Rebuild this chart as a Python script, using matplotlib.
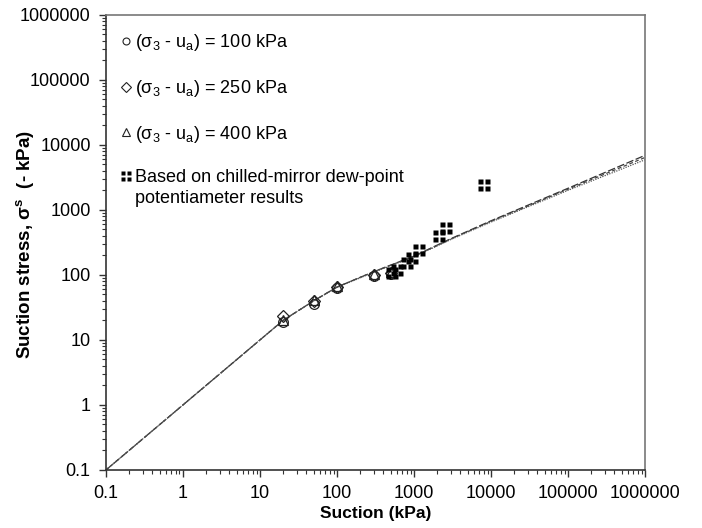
import numpy as np
import matplotlib
matplotlib.use('Agg')
import matplotlib.pyplot as plt
from matplotlib.path import Path
from matplotlib.lines import Line2D
from matplotlib.ticker import LogLocator, FuncFormatter

plt.rcParams['font.family'] = ['Liberation Sans', 'DejaVu Sans']
plt.rcParams['mathtext.fontset'] = 'custom'
plt.rcParams['mathtext.rm'] = 'Liberation Sans'
plt.rcParams['mathtext.it'] = 'Liberation Sans:italic'
plt.rcParams['mathtext.bf'] = 'Liberation Sans:bold'

# model curves
curveX = [0.1, 1, 10, 20, 50, 100, 300, 1000, 3000, 10000, 100000, 1000000]
curve1Y = [0.1, 1, 10, 20, 40, 65, 112, 195, 360, 680, 2150, 6900]
curve2Y = [0.1, 1, 10, 20, 40, 65, 112, 193, 355, 665, 2080, 6400]
curve3Y = [0.1, 1, 10, 20, 40, 64, 110, 190, 350, 650, 2000, 5900]

# test results
suction = [20, 50, 100, 300, 500]
stress100 = [19, 36, 63, 97, 104]
stress250 = [23, 39, 66, 100, 108]
stress400 = [20, 41, 68, 102, 112]

# chilled-mirror dew-point results
dewX = [520, 600, 811, 942, 1160, 2110, 2600, 8000]
dewY = [108, 118, 152, 182, 242, 398, 529, 2440]

labels = [r'(σ$_3$ - u$_\mathregular{a}$) = 100 kPa',
          r'(σ$_3$ - u$_\mathregular{a}$) = 250 kPa',
          r'(σ$_3$ - u$_\mathregular{a}$) = 400 kPa',
          'Based on chilled-mirror dew-point']
label2 = 'potentiameter results'

# square marker split in four
g = 0.14
verts = []
codes = []
for x0, y0 in [(-1, -1), (g, -1), (-1, g), (g, g)]:
    w = 1 - g
    verts += [(x0, y0), (x0 + w, y0), (x0 + w, y0 + w), (x0, y0 + w), (x0, y0)]
    codes += [Path.MOVETO, Path.LINETO, Path.LINETO, Path.LINETO, Path.CLOSEPOLY]
quadMarker = Path(verts, codes)

fig = plt.figure(figsize=(7.02, 5.28), dpi=100)
ax = fig.add_axes([0.151, 0.110, 0.768, 0.862])

ax.plot(curveX, curve1Y, color='#333333', lw=0.9, ls=(0, (6, 2)))
ax.plot(curveX, curve2Y, color='#444444', lw=0.9, ls=(0, (3, 2)))
ax.plot(curveX, curve3Y, color='#555555', lw=0.9, ls=(0, (1, 1)))

ax.plot(suction, stress100, 'o', mfc='none', mec='#222222', ms=7, mew=0.9)
ax.plot(suction, stress250, 'D', mfc='none', mec='#222222', ms=6.5, mew=0.9)
ax.plot(suction, stress400, '^', mfc='none', mec='#222222', ms=7.5, mew=0.9)
ax.plot(dewX, dewY, ls='none', marker=quadMarker, mfc='black', mec='none', ms=9)

ax.set_xscale('log')
ax.set_yscale('log')
ax.set_xlim(0.1, 1e6)
ax.set_ylim(0.1, 1e6)

fmt = FuncFormatter(lambda v, p: f'{v:.0f}' if v >= 1 else f'{v:g}')
for a in (ax.xaxis, ax.yaxis):
    a.set_major_locator(LogLocator(base=10, numticks=20))
    a.set_minor_locator(LogLocator(base=10, subs=np.arange(2, 10), numticks=20))
    a.set_major_formatter(fmt)
    a.set_minor_formatter(plt.NullFormatter())
ax.tick_params(which='major', direction='out', length=5, width=1, labelsize=13, color='#333333', pad=6)
ax.tick_params(which='minor', direction='out', length=3, width=0.8, color='#333333')

for s in ['left', 'bottom']:
    ax.spines[s].set_color('#333333')
    ax.spines[s].set_linewidth(1.2)
for s in ['top', 'right']:
    ax.spines[s].set_color('#777777')
    ax.spines[s].set_linewidth(1.2)

ax.set_xlabel('Suction (kPa)', fontsize=12.5, fontweight='bold', labelpad=3)
ax.set_ylabel(r'Suction stress, σ$^\mathbf{s}$  (- kPa)', fontsize=13.5, fontweight='bold')
ax.yaxis.set_label_coords(-0.13, 0.495)

handles = [Line2D([], [], ls='none', marker='o', mfc='none', mec='#222222', ms=5, mew=0.8),
           Line2D([], [], ls='none', marker='D', mfc='none', mec='#222222', ms=5, mew=0.8),
           Line2D([], [], ls='none', marker='^', mfc='none', mec='#222222', ms=6, mew=0.8),
           Line2D([], [], ls='none', marker=quadMarker, mfc='black', mec='none', ms=7.5)]
leg = ax.legend(handles, labels, loc='upper left', frameon=False, fontsize=13,
                handlelength=0.5, handletextpad=0.25, labelspacing=1.36,
                borderaxespad=0.0, bbox_to_anchor=(0.015, 0.977))

# second line of the last legend entry, under the first one
fig.canvas.draw()
inv = ax.transAxes.inverted()
bb = leg.get_texts()[3].get_window_extent()
x0, y0 = inv.transform((bb.x0, bb.y0))
ax.text(x0, y0 - 0.008, label2, transform=ax.transAxes, fontsize=13, va='top', ha='left')

fig.savefig('out.png', dpi=100)
